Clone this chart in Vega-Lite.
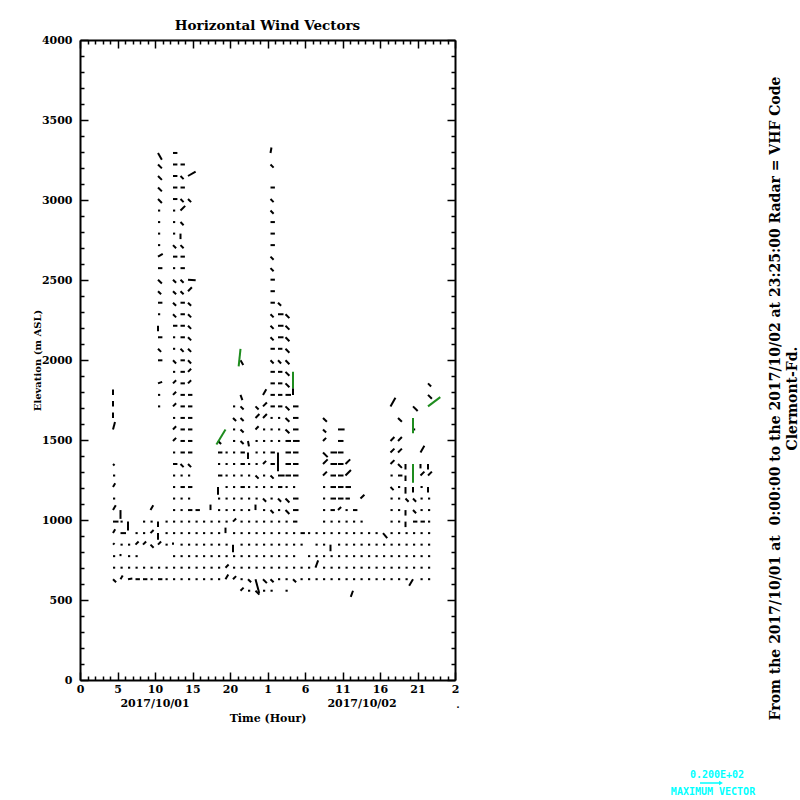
{
"$schema":"https://vega.github.io/schema/vega-lite/v6.json",
"width":375,"height":640,
"autosize":"none",
"padding":{"left":80,"top":40,"right":345,"bottom":120},
"background":"white",
"config":{"view":{"stroke":null},"font":"DejaVu Serif",
 "axis":{"domainColor":"black","domainWidth":2,"tickColor":"black","tickWidth":1.5,"labelFont":"DejaVu Serif","labelFontWeight":"bold","labelFontSize":11,"labelColor":"black","titleFont":"DejaVu Serif","titleFontWeight":"bold","titleFontSize":11,"titleColor":"black","grid":false,"labelOverlap":false,"labelBound":false,"labelFlush":false}},
"title":{"text":"Horizontal Wind Vectors","font":"DejaVu Serif","fontWeight":"bold","fontSize":13.5,"offset":2,"anchor":"middle","color":"black"},
"datasets":{"wind":[
{"h":4.4,"z":630,"d":135,"s":4},{"h":4.4,"z":702,"d":90,"s":2},{"h":4.4,"z":774,"d":90,"s":2},{"h":4.4,"z":846,"d":45,"s":2},{"h":4.4,"z":918,"d":30,"s":4},{"h":4.4,"z":990,"d":90,"s":5},{"h":4.4,"z":1062,"d":30,"s":5},{"h":4.4,"z":1134,"d":90,"s":2},{"h":4.4,"z":1206,"d":30,"s":4},{"h":4.4,"z":1278,"d":90,"s":2},{"h":4.4,"z":1350,"d":135,"s":2},{"h":4.4,"z":1566,"d":15,"s":7},{"h":4.4,"z":1638,"d":0,"s":5},{"h":4.4,"z":1710,"d":0,"s":5},{"h":4.4,"z":1782,"d":0,"s":5},
{"h":5.4,"z":630,"d":30,"s":4},{"h":5.4,"z":702,"d":90,"s":2},{"h":5.4,"z":774,"d":0,"s":2},{"h":5.4,"z":846,"d":90,"s":2},{"h":5.4,"z":918,"d":90,"s":5},{"h":5.4,"z":990,"d":90,"s":2},{"h":5.4,"z":1062,"d":180,"s":8},
{"h":6.4,"z":630,"d":80,"s":4},{"h":6.4,"z":702,"d":90,"s":2},{"h":6.4,"z":774,"d":90,"s":2},{"h":6.4,"z":846,"d":90,"s":2},{"h":6.4,"z":990,"d":180,"s":8},
{"h":7.4,"z":630,"d":90,"s":4},{"h":7.4,"z":702,"d":90,"s":2},{"h":7.4,"z":774,"d":90,"s":2},{"h":7.4,"z":846,"d":45,"s":4},{"h":7.4,"z":918,"d":90,"s":2},
{"h":8.4,"z":630,"d":90,"s":4},{"h":8.4,"z":702,"d":90,"s":2},{"h":8.4,"z":846,"d":45,"s":4},{"h":8.4,"z":918,"d":90,"s":2},{"h":8.4,"z":990,"d":90,"s":2},
{"h":9.4,"z":630,"d":90,"s":2},{"h":9.4,"z":702,"d":90,"s":2},{"h":9.4,"z":846,"d":135,"s":4},{"h":9.4,"z":918,"d":45,"s":4},{"h":9.4,"z":990,"d":90,"s":2},{"h":9.4,"z":1062,"d":30,"s":5},
{"h":10.4,"z":630,"d":90,"s":4},{"h":10.4,"z":702,"d":90,"s":2},{"h":10.4,"z":846,"d":45,"s":4},{"h":10.4,"z":918,"d":180,"s":6},{"h":10.4,"z":990,"d":180,"s":5},{"h":10.4,"z":1710,"d":90,"s":2},{"h":10.4,"z":1782,"d":90,"s":2},{"h":10.4,"z":1854,"d":70,"s":4},{"h":10.4,"z":1998,"d":90,"s":4},{"h":10.4,"z":2070,"d":135,"s":4},{"h":10.4,"z":2142,"d":90,"s":4},{"h":10.4,"z":2214,"d":180,"s":5},{"h":10.4,"z":2286,"d":90,"s":2},{"h":10.4,"z":2358,"d":90,"s":4},{"h":10.4,"z":2430,"d":135,"s":4},{"h":10.4,"z":2502,"d":135,"s":5},{"h":10.4,"z":2574,"d":90,"s":4},{"h":10.4,"z":2646,"d":60,"s":5},{"h":10.4,"z":2718,"d":90,"s":2},{"h":10.4,"z":2790,"d":90,"s":2},{"h":10.4,"z":2862,"d":90,"s":2},{"h":10.4,"z":2934,"d":90,"s":2},{"h":10.4,"z":3006,"d":135,"s":5},{"h":10.4,"z":3078,"d":135,"s":5},{"h":10.4,"z":3150,"d":135,"s":5},{"h":10.4,"z":3222,"d":135,"s":5},{"h":10.4,"z":3294,"d":150,"s":7},
{"h":11.4,"z":630,"d":90,"s":2},{"h":11.4,"z":702,"d":90,"s":2},{"h":11.4,"z":846,"d":90,"s":2},{"h":11.4,"z":918,"d":90,"s":2},{"h":11.4,"z":990,"d":90,"s":2},
{"h":12.4,"z":630,"d":90,"s":2},{"h":12.4,"z":702,"d":90,"s":2},{"h":12.4,"z":774,"d":90,"s":2},{"h":12.4,"z":846,"d":0,"s":2},{"h":12.4,"z":918,"d":90,"s":2},{"h":12.4,"z":990,"d":90,"s":2},{"h":12.4,"z":1062,"d":90,"s":2},{"h":12.4,"z":1134,"d":90,"s":2},{"h":12.4,"z":1206,"d":90,"s":2},{"h":12.4,"z":1278,"d":90,"s":2},{"h":12.4,"z":1350,"d":90,"s":4},{"h":12.4,"z":1422,"d":90,"s":2},{"h":12.4,"z":1494,"d":45,"s":4},{"h":12.4,"z":1566,"d":45,"s":4},{"h":12.4,"z":1638,"d":90,"s":2},{"h":12.4,"z":1710,"d":45,"s":4},{"h":12.4,"z":1782,"d":45,"s":4},{"h":12.4,"z":1854,"d":45,"s":4},{"h":12.4,"z":1926,"d":90,"s":2},{"h":12.4,"z":1998,"d":135,"s":4},{"h":12.4,"z":2070,"d":90,"s":2},{"h":12.4,"z":2142,"d":90,"s":2},{"h":12.4,"z":2214,"d":90,"s":4},{"h":12.4,"z":2286,"d":135,"s":4},{"h":12.4,"z":2358,"d":135,"s":4},{"h":12.4,"z":2430,"d":135,"s":4},{"h":12.4,"z":2502,"d":135,"s":4},{"h":12.4,"z":2574,"d":90,"s":2},{"h":12.4,"z":2646,"d":90,"s":4},{"h":12.4,"z":2718,"d":135,"s":4},{"h":12.4,"z":2790,"d":90,"s":2},{"h":12.4,"z":2862,"d":90,"s":2},{"h":12.4,"z":2934,"d":90,"s":2},{"h":12.4,"z":3006,"d":90,"s":4},{"h":12.4,"z":3078,"d":90,"s":4},{"h":12.4,"z":3150,"d":90,"s":4},{"h":12.4,"z":3222,"d":90,"s":4},{"h":12.4,"z":3294,"d":90,"s":4},
{"h":13.4,"z":630,"d":90,"s":2},{"h":13.4,"z":702,"d":90,"s":2},{"h":13.4,"z":774,"d":90,"s":2},{"h":13.4,"z":846,"d":90,"s":2},{"h":13.4,"z":918,"d":90,"s":2},{"h":13.4,"z":990,"d":90,"s":2},{"h":13.4,"z":1062,"d":90,"s":2},{"h":13.4,"z":1134,"d":90,"s":2},{"h":13.4,"z":1206,"d":90,"s":4},{"h":13.4,"z":1278,"d":90,"s":2},{"h":13.4,"z":1350,"d":135,"s":4},{"h":13.4,"z":1422,"d":90,"s":4},{"h":13.4,"z":1494,"d":90,"s":4},{"h":13.4,"z":1566,"d":90,"s":4},{"h":13.4,"z":1638,"d":90,"s":4},{"h":13.4,"z":1710,"d":90,"s":4},{"h":13.4,"z":1782,"d":90,"s":4},{"h":13.4,"z":1854,"d":90,"s":4},{"h":13.4,"z":1926,"d":90,"s":4},{"h":13.4,"z":1998,"d":90,"s":4},{"h":13.4,"z":2070,"d":135,"s":4},{"h":13.4,"z":2142,"d":90,"s":4},{"h":13.4,"z":2214,"d":90,"s":4},{"h":13.4,"z":2286,"d":90,"s":4},{"h":13.4,"z":2358,"d":90,"s":4},{"h":13.4,"z":2430,"d":135,"s":4},{"h":13.4,"z":2502,"d":135,"s":4},{"h":13.4,"z":2574,"d":90,"s":4},{"h":13.4,"z":2646,"d":90,"s":4},{"h":13.4,"z":2718,"d":135,"s":4},{"h":13.4,"z":2790,"d":180,"s":5},{"h":13.4,"z":2862,"d":135,"s":4},{"h":13.4,"z":2934,"d":45,"s":6},{"h":13.4,"z":3006,"d":135,"s":4},{"h":13.4,"z":3078,"d":90,"s":4},{"h":13.4,"z":3150,"d":135,"s":4},{"h":13.4,"z":3222,"d":90,"s":4},
{"h":14.4,"z":630,"d":90,"s":2},{"h":14.4,"z":702,"d":90,"s":2},{"h":14.4,"z":774,"d":90,"s":2},{"h":14.4,"z":846,"d":90,"s":2},{"h":14.4,"z":918,"d":90,"s":2},{"h":14.4,"z":990,"d":90,"s":2},{"h":14.4,"z":1062,"d":90,"s":4},{"h":14.4,"z":1134,"d":90,"s":2},{"h":14.4,"z":1206,"d":90,"s":4},{"h":14.4,"z":1278,"d":90,"s":2},{"h":14.4,"z":1350,"d":135,"s":4},{"h":14.4,"z":1422,"d":90,"s":4},{"h":14.4,"z":1494,"d":90,"s":4},{"h":14.4,"z":1566,"d":90,"s":4},{"h":14.4,"z":1638,"d":90,"s":4},{"h":14.4,"z":1710,"d":90,"s":4},{"h":14.4,"z":1782,"d":90,"s":4},{"h":14.4,"z":1854,"d":45,"s":4},{"h":14.4,"z":1926,"d":45,"s":4},{"h":14.4,"z":1998,"d":135,"s":4},{"h":14.4,"z":2070,"d":135,"s":4},{"h":14.4,"z":2142,"d":135,"s":4},{"h":14.4,"z":2214,"d":135,"s":4},{"h":14.4,"z":2286,"d":135,"s":4},{"h":14.4,"z":2358,"d":135,"s":4},{"h":14.4,"z":2430,"d":45,"s":5},{"h":14.4,"z":2502,"d":95,"s":7},{"h":14.4,"z":3006,"d":135,"s":4},{"h":14.4,"z":3150,"d":60,"s":8},
{"h":15.4,"z":630,"d":90,"s":2},{"h":15.4,"z":702,"d":90,"s":2},{"h":15.4,"z":774,"d":90,"s":2},{"h":15.4,"z":846,"d":90,"s":2},{"h":15.4,"z":918,"d":90,"s":2},{"h":15.4,"z":990,"d":90,"s":2},{"h":15.4,"z":1062,"d":90,"s":4},
{"h":16.4,"z":630,"d":90,"s":2},{"h":16.4,"z":702,"d":90,"s":2},{"h":16.4,"z":774,"d":90,"s":2},{"h":16.4,"z":846,"d":90,"s":2},{"h":16.4,"z":918,"d":90,"s":2},{"h":16.4,"z":990,"d":90,"s":2},
{"h":17.4,"z":630,"d":90,"s":2},{"h":17.4,"z":702,"d":90,"s":2},{"h":17.4,"z":774,"d":90,"s":2},{"h":17.4,"z":846,"d":90,"s":2},{"h":17.4,"z":918,"d":90,"s":2},{"h":17.4,"z":990,"d":90,"s":2},{"h":17.4,"z":1062,"d":0,"s":5},
{"h":18.4,"z":630,"d":90,"s":2},{"h":18.4,"z":702,"d":90,"s":2},{"h":18.4,"z":774,"d":90,"s":2},{"h":18.4,"z":846,"d":90,"s":2},{"h":18.4,"z":918,"d":90,"s":2},{"h":18.4,"z":990,"d":90,"s":2},{"h":18.4,"z":1062,"d":90,"s":2},{"h":18.4,"z":1134,"d":90,"s":2},{"h":18.4,"z":1206,"d":180,"s":7},{"h":18.4,"z":1278,"d":90,"s":4},{"h":18.4,"z":1350,"d":90,"s":2},{"h":18.4,"z":1422,"d":90,"s":4},{"h":18.4,"z":1494,"d":135,"s":4},
{"h":19.4,"z":630,"d":30,"s":5},{"h":19.4,"z":702,"d":45,"s":4},{"h":19.4,"z":774,"d":90,"s":2},{"h":19.4,"z":846,"d":90,"s":2},{"h":19.4,"z":918,"d":0,"s":5},{"h":19.4,"z":990,"d":90,"s":2},{"h":19.4,"z":1062,"d":90,"s":2},{"h":19.4,"z":1134,"d":90,"s":2},{"h":19.4,"z":1206,"d":90,"s":2},{"h":19.4,"z":1278,"d":90,"s":2},{"h":19.4,"z":1350,"d":90,"s":2},{"h":19.4,"z":1422,"d":90,"s":2},{"h":19.4,"z":1566,"d":211,"s":16,"f":1},
{"h":20.4,"z":630,"d":45,"s":4},{"h":20.4,"z":702,"d":90,"s":2},{"h":20.4,"z":774,"d":90,"s":2},{"h":20.4,"z":846,"d":180,"s":7},{"h":20.4,"z":918,"d":90,"s":2},{"h":20.4,"z":990,"d":45,"s":4},{"h":20.4,"z":1062,"d":90,"s":2},{"h":20.4,"z":1134,"d":90,"s":2},{"h":20.4,"z":1206,"d":90,"s":2},{"h":20.4,"z":1278,"d":90,"s":2},{"h":20.4,"z":1350,"d":90,"s":2},{"h":20.4,"z":1422,"d":90,"s":2},{"h":20.4,"z":1494,"d":90,"s":2},{"h":20.4,"z":1566,"d":90,"s":2},{"h":20.4,"z":1638,"d":135,"s":4},{"h":20.4,"z":1710,"d":90,"s":2},
{"h":21.4,"z":558,"d":45,"s":4},{"h":21.4,"z":630,"d":90,"s":2},{"h":21.4,"z":702,"d":90,"s":2},{"h":21.4,"z":774,"d":90,"s":2},{"h":21.4,"z":846,"d":90,"s":2},{"h":21.4,"z":918,"d":90,"s":2},{"h":21.4,"z":990,"d":90,"s":2},{"h":21.4,"z":1062,"d":90,"s":2},{"h":21.4,"z":1134,"d":90,"s":2},{"h":21.4,"z":1206,"d":90,"s":4},{"h":21.4,"z":1278,"d":90,"s":2},{"h":21.4,"z":1350,"d":90,"s":4},{"h":21.4,"z":1422,"d":90,"s":4},{"h":21.4,"z":1494,"d":135,"s":4},{"h":21.4,"z":1566,"d":135,"s":4},{"h":21.4,"z":1638,"d":135,"s":4},{"h":21.4,"z":1710,"d":135,"s":4},{"h":21.4,"z":1782,"d":160,"s":5},{"h":21.4,"z":1998,"d":150,"s":5},{"h":21.4,"z":2070,"d":186,"s":16,"f":1},
{"h":22.4,"z":558,"d":90,"s":2},{"h":22.4,"z":630,"d":135,"s":4},{"h":22.4,"z":702,"d":90,"s":2},{"h":22.4,"z":774,"d":90,"s":2},{"h":22.4,"z":846,"d":90,"s":2},{"h":22.4,"z":918,"d":90,"s":2},{"h":22.4,"z":990,"d":90,"s":2},{"h":22.4,"z":1062,"d":90,"s":2},{"h":22.4,"z":1134,"d":90,"s":2},{"h":22.4,"z":1206,"d":90,"s":2},{"h":22.4,"z":1278,"d":90,"s":2},{"h":22.4,"z":1350,"d":90,"s":2},{"h":22.4,"z":1422,"d":180,"s":6},{"h":22.4,"z":1494,"d":170,"s":5},
{"h":23.4,"z":558,"d":135,"s":5},{"h":23.4,"z":630,"d":165,"s":13},{"h":23.4,"z":702,"d":90,"s":2},{"h":23.4,"z":774,"d":90,"s":2},{"h":23.4,"z":846,"d":90,"s":2},{"h":23.4,"z":918,"d":90,"s":2},{"h":23.4,"z":990,"d":90,"s":2},{"h":23.4,"z":1062,"d":0,"s":5},{"h":23.4,"z":1134,"d":90,"s":2},{"h":23.4,"z":1206,"d":90,"s":2},{"h":23.4,"z":1278,"d":135,"s":4},{"h":23.4,"z":1350,"d":90,"s":2},{"h":23.4,"z":1422,"d":90,"s":2},{"h":23.4,"z":1494,"d":90,"s":2},{"h":23.4,"z":1566,"d":45,"s":4},{"h":23.4,"z":1638,"d":45,"s":5},{"h":23.4,"z":1710,"d":135,"s":4},
{"h":24.4,"z":558,"d":90,"s":2},{"h":24.4,"z":630,"d":135,"s":5},{"h":24.4,"z":702,"d":90,"s":2},{"h":24.4,"z":774,"d":90,"s":2},{"h":24.4,"z":846,"d":90,"s":2},{"h":24.4,"z":918,"d":90,"s":2},{"h":24.4,"z":990,"d":90,"s":2},{"h":24.4,"z":1062,"d":90,"s":2},{"h":24.4,"z":1134,"d":135,"s":4},{"h":24.4,"z":1206,"d":90,"s":2},{"h":24.4,"z":1278,"d":90,"s":2},{"h":24.4,"z":1350,"d":45,"s":4},{"h":24.4,"z":1422,"d":90,"s":2},{"h":24.4,"z":1494,"d":90,"s":2},{"h":24.4,"z":1566,"d":90,"s":2},{"h":24.4,"z":1638,"d":45,"s":5},{"h":24.4,"z":1710,"d":45,"s":5},{"h":24.4,"z":1782,"d":30,"s":6},
{"h":25.4,"z":558,"d":90,"s":2},{"h":25.4,"z":630,"d":135,"s":4},{"h":25.4,"z":702,"d":90,"s":2},{"h":25.4,"z":774,"d":90,"s":2},{"h":25.4,"z":846,"d":90,"s":2},{"h":25.4,"z":918,"d":90,"s":2},{"h":25.4,"z":990,"d":90,"s":2},{"h":25.4,"z":1062,"d":135,"s":4},{"h":25.4,"z":1134,"d":90,"s":2},{"h":25.4,"z":1206,"d":90,"s":2},{"h":25.4,"z":1278,"d":135,"s":4},{"h":25.4,"z":1350,"d":90,"s":4},{"h":25.4,"z":1422,"d":90,"s":4},{"h":25.4,"z":1494,"d":90,"s":2},{"h":25.4,"z":1566,"d":90,"s":2},{"h":25.4,"z":1638,"d":90,"s":2},{"h":25.4,"z":1710,"d":90,"s":4},{"h":25.4,"z":1782,"d":90,"s":4},{"h":25.4,"z":1854,"d":90,"s":4},{"h":25.4,"z":1926,"d":90,"s":4},{"h":25.4,"z":1998,"d":135,"s":4},{"h":25.4,"z":2070,"d":90,"s":4},{"h":25.4,"z":2142,"d":135,"s":4},{"h":25.4,"z":2214,"d":135,"s":4},{"h":25.4,"z":2286,"d":135,"s":4},{"h":25.4,"z":2358,"d":90,"s":4},{"h":25.4,"z":2430,"d":90,"s":4},{"h":25.4,"z":2502,"d":90,"s":4},{"h":25.4,"z":2574,"d":135,"s":4},{"h":25.4,"z":2646,"d":135,"s":4},{"h":25.4,"z":2718,"d":90,"s":4},{"h":25.4,"z":2790,"d":90,"s":4},{"h":25.4,"z":2862,"d":90,"s":4},{"h":25.4,"z":2934,"d":135,"s":4},{"h":25.4,"z":3006,"d":135,"s":4},{"h":25.4,"z":3078,"d":90,"s":4},{"h":25.4,"z":3222,"d":135,"s":4},{"h":25.4,"z":3294,"d":10,"s":5},
{"h":26.4,"z":630,"d":90,"s":2},{"h":26.4,"z":702,"d":90,"s":2},{"h":26.4,"z":774,"d":90,"s":2},{"h":26.4,"z":846,"d":90,"s":2},{"h":26.4,"z":918,"d":90,"s":2},{"h":26.4,"z":990,"d":90,"s":2},{"h":26.4,"z":1062,"d":90,"s":2},{"h":26.4,"z":1134,"d":135,"s":4},{"h":26.4,"z":1206,"d":90,"s":4},{"h":26.4,"z":1278,"d":90,"s":6},{"h":26.4,"z":1422,"d":180,"s":17},{"h":26.4,"z":1494,"d":90,"s":2},{"h":26.4,"z":1566,"d":90,"s":2},{"h":26.4,"z":1638,"d":90,"s":2},{"h":26.4,"z":1710,"d":90,"s":4},{"h":26.4,"z":1782,"d":90,"s":4},{"h":26.4,"z":1854,"d":90,"s":4},{"h":26.4,"z":1926,"d":90,"s":4},{"h":26.4,"z":1998,"d":135,"s":4},{"h":26.4,"z":2070,"d":90,"s":4},{"h":26.4,"z":2142,"d":90,"s":5},{"h":26.4,"z":2214,"d":90,"s":5},{"h":26.4,"z":2286,"d":90,"s":5},{"h":26.4,"z":2358,"d":135,"s":4},
{"h":27.4,"z":558,"d":90,"s":2},{"h":27.4,"z":630,"d":90,"s":2},{"h":27.4,"z":702,"d":90,"s":2},{"h":27.4,"z":774,"d":90,"s":2},{"h":27.4,"z":846,"d":90,"s":2},{"h":27.4,"z":918,"d":90,"s":2},{"h":27.4,"z":990,"d":90,"s":2},{"h":27.4,"z":1062,"d":135,"s":5},{"h":27.4,"z":1134,"d":135,"s":5},{"h":27.4,"z":1206,"d":90,"s":2},{"h":27.4,"z":1278,"d":90,"s":5},{"h":27.4,"z":1350,"d":90,"s":5},{"h":27.4,"z":1422,"d":90,"s":5},{"h":27.4,"z":1494,"d":90,"s":5},{"h":27.4,"z":1566,"d":135,"s":5},{"h":27.4,"z":1638,"d":135,"s":5},{"h":27.4,"z":1710,"d":135,"s":5},{"h":27.4,"z":1782,"d":90,"s":5},{"h":27.4,"z":1854,"d":135,"s":5},{"h":27.4,"z":1926,"d":135,"s":5},{"h":27.4,"z":1998,"d":135,"s":5},{"h":27.4,"z":2070,"d":135,"s":5},{"h":27.4,"z":2142,"d":135,"s":5},{"h":27.4,"z":2214,"d":135,"s":5},{"h":27.4,"z":2286,"d":135,"s":5},
{"h":28.4,"z":630,"d":135,"s":4},{"h":28.4,"z":702,"d":90,"s":2},{"h":28.4,"z":774,"d":90,"s":2},{"h":28.4,"z":846,"d":90,"s":2},{"h":28.4,"z":918,"d":90,"s":2},{"h":28.4,"z":990,"d":90,"s":4},{"h":28.4,"z":1062,"d":90,"s":5},{"h":28.4,"z":1134,"d":90,"s":5},{"h":28.4,"z":1206,"d":90,"s":2},{"h":28.4,"z":1278,"d":90,"s":5},{"h":28.4,"z":1350,"d":90,"s":5},{"h":28.4,"z":1422,"d":90,"s":5},{"h":28.4,"z":1494,"d":90,"s":6},{"h":28.4,"z":1566,"d":90,"s":5},{"h":28.4,"z":1638,"d":90,"s":5},{"h":28.4,"z":1710,"d":90,"s":5},{"h":28.4,"z":1782,"d":0,"s":6},{"h":28.4,"z":1926,"d":180,"s":15,"f":1},
{"h":29.4,"z":630,"d":90,"s":2},{"h":29.4,"z":702,"d":90,"s":2},{"h":29.4,"z":846,"d":90,"s":2},{"h":29.4,"z":918,"d":90,"s":4},
{"h":30.4,"z":630,"d":90,"s":2},{"h":30.4,"z":702,"d":90,"s":2},{"h":30.4,"z":774,"d":90,"s":2},{"h":30.4,"z":918,"d":90,"s":2},
{"h":31.4,"z":630,"d":90,"s":2},{"h":31.4,"z":702,"d":20,"s":7},{"h":31.4,"z":774,"d":90,"s":2},{"h":31.4,"z":846,"d":90,"s":2},{"h":31.4,"z":918,"d":90,"s":2},
{"h":32.4,"z":630,"d":90,"s":2},{"h":32.4,"z":702,"d":90,"s":2},{"h":32.4,"z":774,"d":90,"s":2},{"h":32.4,"z":846,"d":90,"s":2},{"h":32.4,"z":918,"d":90,"s":2},{"h":32.4,"z":990,"d":90,"s":2},{"h":32.4,"z":1062,"d":90,"s":2},{"h":32.4,"z":1134,"d":90,"s":2},{"h":32.4,"z":1206,"d":90,"s":2},{"h":32.4,"z":1278,"d":45,"s":5},{"h":32.4,"z":1350,"d":45,"s":6},{"h":32.4,"z":1422,"d":135,"s":6},{"h":32.4,"z":1494,"d":45,"s":4},{"h":32.4,"z":1566,"d":135,"s":4},{"h":32.4,"z":1638,"d":135,"s":5},
{"h":33.4,"z":630,"d":90,"s":2},{"h":33.4,"z":702,"d":90,"s":2},{"h":33.4,"z":774,"d":90,"s":2},{"h":33.4,"z":846,"d":180,"s":6},{"h":33.4,"z":918,"d":90,"s":2},{"h":33.4,"z":990,"d":90,"s":2},{"h":33.4,"z":1062,"d":90,"s":4},{"h":33.4,"z":1134,"d":90,"s":5},{"h":33.4,"z":1206,"d":90,"s":5},{"h":33.4,"z":1278,"d":90,"s":5},{"h":33.4,"z":1350,"d":90,"s":6},{"h":33.4,"z":1422,"d":90,"s":6},
{"h":34.4,"z":630,"d":90,"s":2},{"h":34.4,"z":702,"d":90,"s":2},{"h":34.4,"z":774,"d":90,"s":2},{"h":34.4,"z":846,"d":90,"s":2},{"h":34.4,"z":918,"d":90,"s":2},{"h":34.4,"z":990,"d":90,"s":2},{"h":34.4,"z":1062,"d":45,"s":4},{"h":34.4,"z":1134,"d":90,"s":5},{"h":34.4,"z":1206,"d":90,"s":5},{"h":34.4,"z":1278,"d":90,"s":5},{"h":34.4,"z":1350,"d":90,"s":5},{"h":34.4,"z":1422,"d":90,"s":5},{"h":34.4,"z":1494,"d":90,"s":5},{"h":34.4,"z":1566,"d":90,"s":6},
{"h":35.4,"z":630,"d":90,"s":2},{"h":35.4,"z":702,"d":90,"s":2},{"h":35.4,"z":774,"d":90,"s":2},{"h":35.4,"z":846,"d":90,"s":2},{"h":35.4,"z":918,"d":90,"s":2},{"h":35.4,"z":990,"d":90,"s":2},{"h":35.4,"z":1062,"d":90,"s":2},{"h":35.4,"z":1134,"d":90,"s":4},{"h":35.4,"z":1206,"d":90,"s":5},{"h":35.4,"z":1278,"d":45,"s":7},{"h":35.4,"z":1350,"d":45,"s":6},
{"h":36.4,"z":558,"d":200,"s":6},{"h":36.4,"z":630,"d":90,"s":2},{"h":36.4,"z":702,"d":90,"s":2},{"h":36.4,"z":774,"d":90,"s":2},{"h":36.4,"z":846,"d":90,"s":2},{"h":36.4,"z":918,"d":90,"s":2},{"h":36.4,"z":990,"d":90,"s":2},{"h":36.4,"z":1062,"d":90,"s":4},
{"h":37.4,"z":630,"d":90,"s":2},{"h":37.4,"z":702,"d":90,"s":2},{"h":37.4,"z":774,"d":90,"s":2},{"h":37.4,"z":846,"d":90,"s":2},{"h":37.4,"z":918,"d":90,"s":2},{"h":37.4,"z":990,"d":90,"s":2},{"h":37.4,"z":1134,"d":45,"s":5},
{"h":38.4,"z":630,"d":90,"s":2},{"h":38.4,"z":702,"d":90,"s":2},{"h":38.4,"z":774,"d":90,"s":2},{"h":38.4,"z":846,"d":90,"s":2},{"h":38.4,"z":918,"d":90,"s":2},
{"h":39.4,"z":630,"d":90,"s":2},{"h":39.4,"z":702,"d":90,"s":2},{"h":39.4,"z":774,"d":90,"s":2},{"h":39.4,"z":846,"d":90,"s":2},{"h":39.4,"z":918,"d":90,"s":2},
{"h":40.4,"z":630,"d":90,"s":2},{"h":40.4,"z":702,"d":90,"s":2},{"h":40.4,"z":774,"d":90,"s":2},{"h":40.4,"z":846,"d":90,"s":2},{"h":40.4,"z":918,"d":140,"s":6},
{"h":41.4,"z":630,"d":90,"s":2},{"h":41.4,"z":702,"d":90,"s":2},{"h":41.4,"z":774,"d":90,"s":2},{"h":41.4,"z":846,"d":90,"s":2},{"h":41.4,"z":918,"d":90,"s":2},{"h":41.4,"z":990,"d":90,"s":2},{"h":41.4,"z":1062,"d":90,"s":2},{"h":41.4,"z":1134,"d":90,"s":2},{"h":41.4,"z":1206,"d":135,"s":4},{"h":41.4,"z":1278,"d":90,"s":2},{"h":41.4,"z":1350,"d":45,"s":5},{"h":41.4,"z":1422,"d":45,"s":5},{"h":41.4,"z":1494,"d":45,"s":5},{"h":41.4,"z":1710,"d":30,"s":9},
{"h":42.4,"z":630,"d":90,"s":2},{"h":42.4,"z":702,"d":90,"s":2},{"h":42.4,"z":774,"d":90,"s":2},{"h":42.4,"z":846,"d":90,"s":2},{"h":42.4,"z":918,"d":90,"s":2},{"h":42.4,"z":990,"d":90,"s":2},{"h":42.4,"z":1062,"d":90,"s":2},{"h":42.4,"z":1134,"d":90,"s":2},{"h":42.4,"z":1206,"d":90,"s":2},{"h":42.4,"z":1278,"d":90,"s":4},{"h":42.4,"z":1350,"d":135,"s":5},{"h":42.4,"z":1422,"d":45,"s":5},{"h":42.4,"z":1494,"d":45,"s":5},{"h":42.4,"z":1638,"d":135,"s":5},
{"h":43.4,"z":630,"d":90,"s":2},{"h":43.4,"z":702,"d":90,"s":2},{"h":43.4,"z":774,"d":90,"s":2},{"h":43.4,"z":846,"d":90,"s":2},{"h":43.4,"z":918,"d":90,"s":2},{"h":43.4,"z":990,"d":180,"s":5},{"h":43.4,"z":1062,"d":180,"s":5},{"h":43.4,"z":1134,"d":135,"s":4},{"h":43.4,"z":1206,"d":180,"s":6},{"h":43.4,"z":1278,"d":180,"s":5},{"h":43.4,"z":1350,"d":180,"s":5},
{"h":44.4,"z":630,"d":210,"s":7},{"h":44.4,"z":702,"d":90,"s":2},{"h":44.4,"z":774,"d":90,"s":2},{"h":44.4,"z":846,"d":90,"s":2},{"h":44.4,"z":918,"d":90,"s":2},{"h":44.4,"z":990,"d":90,"s":4},{"h":44.4,"z":1062,"d":135,"s":4},{"h":44.4,"z":1134,"d":135,"s":4},{"h":44.4,"z":1206,"d":180,"s":5},{"h":44.4,"z":1350,"d":180,"s":17,"f":1},{"h":44.4,"z":1566,"d":90,"s":2},{"h":44.4,"z":1638,"d":180,"s":14,"f":1},{"h":44.4,"z":1710,"d":135,"s":6},
{"h":45.4,"z":630,"d":90,"s":2},{"h":45.4,"z":702,"d":90,"s":2},{"h":45.4,"z":774,"d":90,"s":2},{"h":45.4,"z":846,"d":90,"s":2},{"h":45.4,"z":918,"d":90,"s":2},{"h":45.4,"z":990,"d":90,"s":4},{"h":45.4,"z":1062,"d":90,"s":2},{"h":45.4,"z":1134,"d":90,"s":2},{"h":45.4,"z":1206,"d":90,"s":2},{"h":45.4,"z":1278,"d":45,"s":5},{"h":45.4,"z":1350,"d":180,"s":4},{"h":45.4,"z":1422,"d":30,"s":7},
{"h":46.4,"z":630,"d":90,"s":2},{"h":46.4,"z":702,"d":90,"s":2},{"h":46.4,"z":774,"d":90,"s":2},{"h":46.4,"z":846,"d":90,"s":2},{"h":46.4,"z":918,"d":90,"s":2},{"h":46.4,"z":990,"d":90,"s":2},{"h":46.4,"z":1062,"d":90,"s":2},{"h":46.4,"z":1134,"d":90,"s":2},{"h":46.4,"z":1206,"d":180,"s":5},{"h":46.4,"z":1278,"d":45,"s":5},{"h":46.4,"z":1350,"d":180,"s":5},{"h":46.4,"z":1710,"d":53,"s":14,"f":1},{"h":46.4,"z":1782,"d":135,"s":5},{"h":46.4,"z":1854,"d":135,"s":4}
],
"dates":[{"h":10,"t":"2017/10/01"},{"h":37.6,"t":"2017/10/02"}]},
"layer":[
{"data":{"name":"wind"},
 "mark":{"type":"point","shape":"M0,0L0,-2","filled":false,"strokeWidth":2,"opacity":1,"strokeCap":"butt"},
 "encoding":{
  "x":{"field":"h","type":"quantitative","scale":{"domain":[0,50],"nice":false,"zero":false},
   "axis":{"orient":"bottom","values":[0,1,2,3,4,5,6,7,8,9,10,11,12,13,14,15,16,17,18,19,20,21,22,23,24,25,26,27,28,29,30,31,32,33,34,35,36,37,38,39,40,41,42,43,44,45,46,47,48,49,50],
    "labelExpr":"datum.value % 5 === 0 ? '' + (datum.value % 24) : ''",
    "tickSize":{"condition":{"test":"datum.value % 5 === 0","value":-8},"value":-4},
    "labelPadding":11,"title":"Time (Hour)","titlePadding":14}},
  "y":{"field":"z","type":"quantitative","scale":{"domain":[0,4000],"nice":false,"zero":false},
   "axis":{"orient":"left","values":[0,100,200,300,400,500,600,700,800,900,1000,1100,1200,1300,1400,1500,1600,1700,1800,1900,2000,2100,2200,2300,2400,2500,2600,2700,2800,2900,3000,3100,3200,3300,3400,3500,3600,3700,3800,3900,4000],
    "labelExpr":"datum.value % 500 === 0 ? '' + datum.value : ''",
    "tickSize":{"condition":{"test":"datum.value % 500 === 0","value":-8},"value":-4},
    "labelPadding":16,"title":"Elevation (m ASL)","titlePadding":-1,"titleFontSize":10}},
  "angle":{"field":"d","type":"quantitative","scale":null},
  "size":{"field":"s","type":"quantitative","scale":{"type":"pow","exponent":2,"domain":[0,20],"range":[0,484]},"legend":null},
  "color":{"condition":{"test":"datum.f === 1","value":"#1e8c1e"},"value":"black"}
 }},
{"data":{"name":"wind"},
 "mark":{"type":"point","opacity":0},
 "encoding":{
  "x":{"field":"h","type":"quantitative","scale":{"domain":[0,50],"nice":false,"zero":false},
   "axis":{"orient":"top","values":[0,1,2,3,4,5,6,7,8,9,10,11,12,13,14,15,16,17,18,19,20,21,22,23,24,25,26,27,28,29,30,31,32,33,34,35,36,37,38,39,40,41,42,43,44,45,46,47,48,49,50],"labels":false,"title":null,
    "tickSize":{"condition":{"test":"datum.value % 5 === 0","value":-8},"value":-4}}},
  "y":{"field":"z","type":"quantitative","scale":{"domain":[0,4000],"nice":false,"zero":false},
   "axis":{"orient":"right","values":[0,100,200,300,400,500,600,700,800,900,1000,1100,1200,1300,1400,1500,1600,1700,1800,1900,2000,2100,2200,2300,2400,2500,2600,2700,2800,2900,3000,3100,3200,3300,3400,3500,3600,3700,3800,3900,4000],"labels":false,
    "tickSize":{"condition":{"test":"datum.value % 500 === 0","value":-8},"value":-4},
    "title":["From the 2017/10/01 at \u00a00:00:00 to the 2017/10/02 at 23:25:00 Radar = VHF Code","Clermont-Fd."],
    "titleAngle":270,"titleX":320,"titleY":358,"titleAlign":"center","titleBaseline":"middle","titleFontSize":14,"titleLineHeight":17}}
 }},
{"data":{"name":"dates"},
 "mark":{"type":"text","font":"DejaVu Serif","fontWeight":"bold","fontSize":11,"color":"black","baseline":"middle","align":"center"},
 "encoding":{"x":{"field":"h","type":"quantitative","axis":null},"y":{"value":664},"text":{"field":"t"}}},
{"data":{"values":[{"t":"0.200E+02"}]},
 "mark":{"type":"text","font":"DejaVu Sans Mono","fontWeight":"bold","fontSize":10,"color":"#00ffff","align":"center","baseline":"middle"},
 "encoding":{"x":{"value":637},"y":{"value":735},"text":{"field":"t"}}},
{"data":{"values":[{"t":"MAXIMUM VECTOR"}]},
 "mark":{"type":"text","font":"DejaVu Sans Mono","fontWeight":"bold","fontSize":10,"color":"#00ffff","align":"center","baseline":"middle"},
 "encoding":{"x":{"value":633},"y":{"value":752},"text":{"field":"t"}}},
{"data":{"values":[{"t":"max"}]},
 "mark":{"type":"rule","color":"#00ffff","strokeWidth":1.5},
 "encoding":{"x":{"value":620},"x2":{"value":640},"y":{"value":743}}},
{"data":{"values":[{"t":"max"}]},
 "mark":{"type":"point","shape":"triangle-right","filled":true,"color":"#00ffff","size":20,"opacity":1},
 "encoding":{"x":{"value":641},"y":{"value":743}}},
{"data":{"values":[{"t":"."}]},
 "mark":{"type":"text","font":"DejaVu Serif","fontWeight":"bold","fontSize":10,"color":"black","align":"center","baseline":"middle"},
 "encoding":{"x":{"value":378},"y":{"value":665},"text":{"field":"t"}}}
],
"resolve":{"axis":{"x":"independent","y":"independent"}}
}
